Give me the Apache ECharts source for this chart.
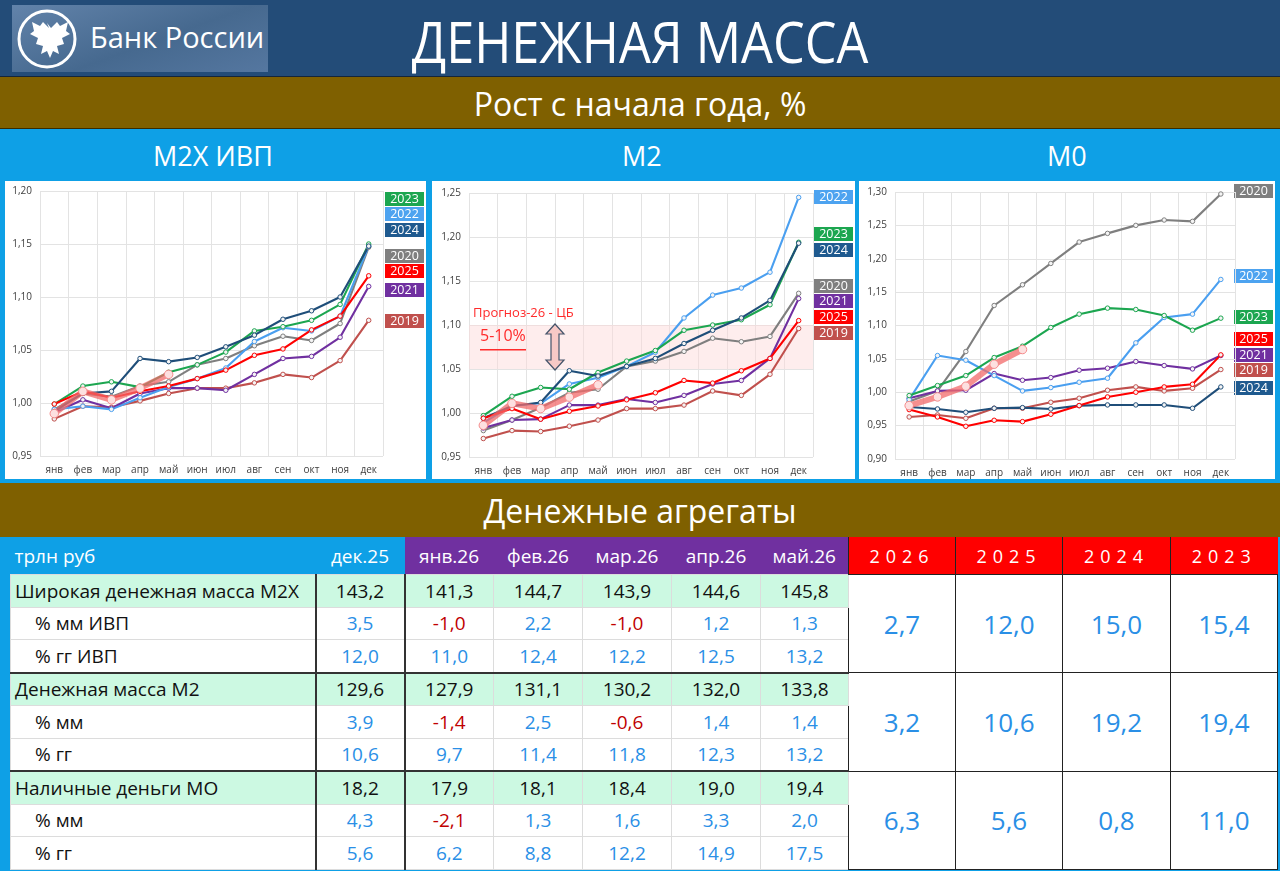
<!DOCTYPE html>
<html lang="ru">
<head>
<meta charset="UTF-8">
<title>Денежная масса</title>
<script src="https://cdn.jsdelivr.net/npm/echarts@6/dist/echarts.min.js"></script>
<style>
  body{margin:0;width:1280px;height:871px;position:relative;overflow:hidden;background:#0ea0e6;font-family:"Open Sans","Noto Sans",sans-serif;}
  .abs{position:absolute;}
  #hdr{left:0;top:0;width:1280px;height:76px;background:#234c78;border-bottom:1px solid #15263a;}
  #logo{left:12px;top:5px;width:256px;height:67px;background:linear-gradient(160deg,#6283aa 0%,#46698f 55%,#5577a0 100%);}
  #logo .txt{position:absolute;left:78px;top:12px;color:#fff;font-size:29px;white-space:nowrap;}
  #title{left:0;top:3px;width:1280px;text-align:center;color:#fff;font-size:56px;white-space:nowrap;transform:scaleX(0.9);transform-origin:640px 0;}
  .bar{left:0;width:1280px;color:#fff;text-align:center;white-space:nowrap;}
  #bar1{top:77px;height:51px;line-height:53px;background:#7f6000;font-size:32px;border-bottom:1px solid #3a2c00;}
  #bar2{top:129px;height:50px;background:#0ea0e6;font-size:27px;}
  #bar2 span{position:absolute;top:8px;}
  #bar3{top:483px;height:54px;line-height:56px;background:#7f6000;font-size:32px;}
  .chart{top:181px;height:298px;background:#fff;}
  table{position:absolute;left:10px;top:537px;border-collapse:collapse;table-layout:fixed;width:1267px;}
  td{padding:0;text-align:center;font-size:19px;height:31.5px;border:1px solid #dcdcdc;white-space:nowrap;background:#fff;}
  tr.h td{height:37px;color:#fff;border:none;}
  td.lbl{text-align:left;padding-left:4px;color:#111;}
  td.ind{padding-left:24px;}
  tr.main td{background:#ccf9e2;color:#111;}
  .pos{color:#2a8fe6;}
  .neg{color:#c00000;}
  tr td.big, tr.main td.big{background:#fff;color:#2a8fe6;font-size:26px;border:1px solid #222;}
  td.vl{border-left:2px solid #333;}
  tr.sep td{border-top:2px solid #333;}
</style>
</head>
<body>
<div id="hdr" class="abs">
  <div id="logo" class="abs">
    <svg width="70" height="67" style="position:absolute;left:4px;top:0">
      <circle cx="31" cy="34" r="28" fill="none" stroke="#fff" stroke-width="3"/>
      <path d="M31 18 l4 5 l6-6 l3 4 l8-4 l-2 9 l4 3 l-8 4 l2 6 l-7 2 l2 8 l-6-3 l-3 7 l-3-7 l-6 3 l2-8 l-7-2 l2-6 l-8-4 l4-3 l-2-9 l8 4 l3-4 l6 6z" fill="#fff"/>
    </svg>
    <div class="txt">Банк России</div>
  </div>
  <div id="title" class="abs">ДЕНЕЖНАЯ МАССА</div>
</div>
<div id="bar1" class="abs bar">Рост с начала года, %</div>
<div id="bar2" class="abs bar">
  <span style="left:153px">М2Х ИВП</span>
  <span style="left:622px">М2</span>
  <span style="left:1047px">М0</span>
</div>
<div id="c1" class="abs chart" style="left:5px;width:421px"></div>
<div id="c2" class="abs chart" style="left:432px;width:423px"></div>
<div id="c3" class="abs chart" style="left:859px;width:416px"></div>
<div id="bar3" class="abs bar">Денежные агрегаты</div>
<table id="tbl"></table>

<script type="text/javascript">
// месяцы
var months = ['янв', 'фев', 'мар', 'апр', 'май', 'июн', 'июл', 'авг', 'сен', 'окт', 'ноя', 'дек'];
var years = ['2019', '2020', '2021', '2022', '2023', '2024', '2025'];
var yearColors = ['#c0504d', '#7f7f7f', '#7030a0', '#4a9ff0', '#1ca650', '#1f4e79', '#ff0000'];

// M2X ИВП, рост с начала года
var m2x_2019 = [0.985, 0.997, 0.996, 1.002, 1.009, 1.014, 1.014, 1.019, 1.027, 1.024, 1.040, 1.078];
var m2x_2020 = [0.994, 1.009, 1.006, 1.016, 1.020, 1.036, 1.042, 1.054, 1.063, 1.059, 1.075, 1.147];
var m2x_2021 = [0.991, 1.003, 0.995, 1.009, 1.014, 1.014, 1.012, 1.027, 1.042, 1.044, 1.062, 1.110];
var m2x_2022 = [0.994, 0.997, 0.994, 1.005, 1.015, 1.023, 1.033, 1.058, 1.071, 1.068, 1.082, 1.148];
var m2x_2023 = [0.999, 1.016, 1.020, 1.015, 1.029, 1.036, 1.048, 1.068, 1.072, 1.078, 1.093, 1.150];
var m2x_2024 = [0.992, 1.009, 1.011, 1.042, 1.039, 1.043, 1.053, 1.064, 1.079, 1.087, 1.100, 1.148];
var m2x_2025 = [0.999, 1.011, 1.005, 1.011, 1.016, 1.023, 1.031, 1.045, 1.051, 1.069, 1.082, 1.120];
var m2x_2026 = [0.990, 1.011, 1.003, 1.014, 1.027];

// M2
var m2_2019 = [0.971, 0.980, 0.979, 0.985, 0.992, 1.005, 1.005, 1.009, 1.025, 1.020, 1.044, 1.096];
var m2_2020 = [0.980, 0.992, 1.006, 1.023, 1.027, 1.053, 1.059, 1.070, 1.085, 1.081, 1.087, 1.136];
var m2_2021 = [0.983, 0.992, 0.993, 1.009, 1.009, 1.016, 1.012, 1.020, 1.033, 1.037, 1.062, 1.130];
var m2_2022 = [0.989, 1.008, 1.011, 1.033, 1.040, 1.053, 1.069, 1.108, 1.134, 1.142, 1.160, 1.245];
var m2_2023 = [0.997, 1.019, 1.029, 1.027, 1.046, 1.059, 1.071, 1.094, 1.100, 1.106, 1.123, 1.194];
var m2_2024 = [0.994, 1.008, 1.012, 1.048, 1.042, 1.053, 1.062, 1.079, 1.094, 1.108, 1.128, 1.193];
var m2_2025 = [0.994, 1.005, 0.993, 1.002, 1.008, 1.015, 1.023, 1.037, 1.034, 1.048, 1.062, 1.105];
var m2_2026 = [0.986, 1.011, 1.005, 1.018, 1.032];

// M0
var m0_2019 = [0.963, 0.966, 0.961, 0.976, 0.976, 0.985, 0.991, 1.003, 1.008, 1.002, 1.006, 1.034];
var m0_2020 = [0.986, 1.002, 1.061, 1.130, 1.161, 1.193, 1.225, 1.238, 1.250, 1.258, 1.256, 1.297];
var m0_2021 = [0.991, 1.002, 1.003, 1.028, 1.018, 1.022, 1.033, 1.036, 1.046, 1.040, 1.035, 1.055];
var m0_2022 = [0.989, 1.055, 1.048, 1.025, 1.002, 1.007, 1.015, 1.021, 1.074, 1.112, 1.117, 1.169];
var m0_2023 = [0.995, 1.010, 1.025, 1.052, 1.069, 1.097, 1.117, 1.126, 1.124, 1.115, 1.093, 1.111];
var m0_2024 = [0.978, 0.975, 0.970, 0.976, 0.977, 0.975, 0.980, 0.981, 0.981, 0.981, 0.976, 1.008];
var m0_2025 = [0.974, 0.963, 0.949, 0.958, 0.956, 0.967, 0.980, 0.993, 1.000, 1.008, 1.012, 1.056];
var m0_2026 = [0.980, 0.993, 1.009, 1.042, 1.064];

// таблица
var tblCols = ['дек.25', 'янв.26', 'фев.26', 'мар.26', 'апр.26', 'май.26'];
var tblYears = ['2026', '2025', '2024', '2023'];
var m2xLevel = [143.2, 141.3, 144.7, 143.9, 144.6, 145.8];
var m2xMm = [3.5, -1.0, 2.2, -1.0, 1.2, 1.3];
var m2xGg = [12.0, 11.0, 12.4, 12.2, 12.5, 13.2];
var m2xYear = [2.7, 12.0, 15.0, 15.4];
var m2Level = [129.6, 127.9, 131.1, 130.2, 132.0, 133.8];
var m2Mm = [3.9, -1.4, 2.5, -0.6, 1.4, 1.4];
var m2Gg = [10.6, 9.7, 11.4, 11.8, 12.3, 13.2];
var m2Year = [3.2, 10.6, 19.2, 19.4];
var m0Level = [18.2, 17.9, 18.1, 18.4, 19.0, 19.4];
var m0Mm = [4.3, -2.1, 1.3, 1.6, 3.3, 2.0];
var m0Gg = [5.6, 6.2, 8.8, 12.2, 14.9, 17.5];
var m0Year = [6.3, 5.6, 0.8, 11.0];

function fmt(v, d) { return v.toFixed(d).replace('.', ','); }

function makeChart(id, data, cur, yMin, yMax, grid, tags, extra) {
    var chart = echarts.init(document.getElementById(id));
    var series = [];
    for (var i = 0; i < years.length; i++) {
        series.push({
            name: years[i], type: 'line', data: data[i],
            symbol: 'circle', symbolSize: 4.5,
            itemStyle: {color: '#f4f4f4', borderColor: yearColors[i], borderWidth: 1},
            lineStyle: {color: yearColors[i], width: 2.1},
            emphasis: {disabled: true}, z: 2
        });
    }
    series.push({
        name: '2026', type: 'line', data: cur,
        symbol: 'circle', symbolSize: 8.5,
        itemStyle: {color: '#fde0e0', borderColor: 'rgba(243,130,130,0.9)', borderWidth: 1},
        lineStyle: {color: 'rgba(242,105,105,0.75)', width: 6},
        emphasis: {disabled: true}, z: 5
    });
    if (extra && extra.band) {
        series[0].markArea = {
            silent: true,
            itemStyle: {color: 'rgba(252,215,215,0.45)'},
            data: [[{yAxis: extra.band[0]}, {yAxis: extra.band[1]}]]
        };
    }
    var g = [];
    tags.forEach(function (t) {
        g.push({
            type: 'group', right: 2, top: t[1] - 7, children: [
                {type: 'rect', shape: {x: 0, y: 0, width: 39, height: 14}, style: {fill: t[2]}},
                {type: 'text', x: 19.5, y: 7, style: {text: t[0], fill: '#fff', font: '12.5px "Open Sans"', align: 'center', verticalAlign: 'middle'}}
            ]
        });
    });
    if (extra && extra.graphic) g = g.concat(extra.graphic);
    chart.setOption({
        animation: false,
        grid: grid,
        xAxis: {
            type: 'category', data: months, boundaryGap: true,
            axisLine: {show: false}, axisTick: {show: false},
            axisLabel: {color: '#404040', fontSize: 10, margin: 9, fontFamily: 'Open Sans'},
            splitLine: {show: true, lineStyle: {color: '#e3e3e3', width: 1}}
        },
        yAxis: {
            type: 'value', min: yMin, max: yMax, interval: 0.05,
            axisLabel: {color: '#404040', fontSize: 10, margin: 8, fontFamily: 'Open Sans', formatter: function (v) { return fmt(v, 2); }},
            splitLine: {lineStyle: {color: '#e3e3e3', width: 1}}
        },
        series: series,
        graphic: g
    });
    return chart;
}

makeChart('c1', [m2x_2019, m2x_2020, m2x_2021, m2x_2022, m2x_2023, m2x_2024, m2x_2025], m2x_2026,
    0.95, 1.20, {left: 35, right: 43, top: 10, bottom: 23},
    [['2023', 18, '#1ca650'], ['2022', 33, '#4da3f0'], ['2024', 49, '#1f5a8f'], ['2020', 75, '#7f7f7f'],
     ['2025', 90, '#ff0000'], ['2021', 109, '#7030a0'], ['2019', 140, '#c0504d']]);

makeChart('c2', [m2_2019, m2_2020, m2_2021, m2_2022, m2_2023, m2_2024, m2_2025], m2_2026,
    0.95, 1.25, {left: 37, right: 42, top: 12, bottom: 22},
    [['2022', 16, '#4da3f0'], ['2023', 53, '#1ca650'], ['2024', 69, '#1f5a8f'], ['2020', 105, '#7f7f7f'],
     ['2021', 120, '#7030a0'], ['2025', 136, '#ff0000'], ['2019', 152, '#c0504d']],
    {
        band: [1.05, 1.10],
        graphic: [
            {type: 'text', left: 41, top: 126, z: 100, style: {text: 'Прогноз-26 - ЦБ', fill: '#ff2b2b', font: '13px "Open Sans"'}},
            {type: 'text', left: 48, top: 147, z: 100, style: {text: '5-10%', fill: '#ff2b2b', font: '16px "Open Sans"'}},
            {type: 'rect', left: 48, top: 168, z: 100, shape: {width: 46, height: 1.5}, style: {fill: '#ff2b2b'}},
            {type: 'polygon', z: 100, shape: {points: [[123, 143], [132, 153], [127, 153], [127, 179], [132, 179], [123, 189], [114, 179], [119, 179], [119, 153], [114, 153]]},
             style: {fill: '#f7c9c6', stroke: '#44546a', lineWidth: 1.2}}
        ]
    });

makeChart('c3', [m0_2019, m0_2020, m0_2021, m0_2022, m0_2023, m0_2024, m0_2025], m0_2026,
    0.90, 1.30, {left: 36, right: 40, top: 11, bottom: 20},
    [['2020', 10, '#7f7f7f'], ['2022', 95, '#4da3f0'], ['2023', 136, '#1ca650'], ['2025', 158, '#ff0000'],
     ['2021', 174, '#7030a0'], ['2019', 189, '#c0504d'], ['2024', 207, '#1f5a8f']]);

// таблица агрегатов
(function () {
    var widths = [305, 89, 89, 89, 89, 89, 88, 107, 107, 108, 107];
    var html = '<colgroup>' + widths.map(function (w) { return '<col style="width:' + w + 'px">'; }).join('') + '</colgroup>';
    html += '<tr class="h"><td class="lbl" style="background:#0ea0e6;color:#fff;font-size:19px">трлн руб</td>';
    tblCols.forEach(function (c, i) {
        var bg = i === 0 ? '#0ea0e6' : '#7030a0';
        var cls = i <= 1 ? ' class="vl"' : '';
        html += '<td' + cls + ' style="background:' + bg + '">' + c + '</td>';
    });
    tblYears.forEach(function (y) {
        html += '<td style="background:#ff0000;border-left:1px solid #222;letter-spacing:6px;font-size:18px">' + y + '</td>';
    });
    html += '</tr>';
    var groups = [
        ['Широкая денежная масса М2Х', '% мм ИВП', '% гг ИВП', m2xLevel, m2xMm, m2xGg, m2xYear],
        ['Денежная масса М2', '% мм', '% гг', m2Level, m2Mm, m2Gg, m2Year],
        ['Наличные деньги МО', '% мм', '% гг', m0Level, m0Mm, m0Gg, m0Year]
    ];
    groups.forEach(function (gr, gi) {
        var sep = gi > 0 ? ' sep' : '';
        html += '<tr class="main' + sep + '"><td class="lbl">' + gr[0] + '</td>';
        gr[3].forEach(function (v, i) { html += '<td' + (i <= 1 ? ' class="vl"' : '') + '>' + fmt(v, 1) + '</td>'; });
        gr[6].forEach(function (v) { html += '<td class="big" rowspan="3">' + fmt(v, 1) + '</td>'; });
        html += '</tr>';
        [[gr[1], gr[4]], [gr[2], gr[5]]].forEach(function (r) {
            html += '<tr><td class="lbl ind">' + r[0] + '</td>';
            r[1].forEach(function (v, i) {
                var c = (v < 0 ? 'neg' : 'pos') + (i <= 1 ? ' vl' : '');
                html += '<td class="' + c + '">' + fmt(v, 1) + '</td>';
            });
            html += '</tr>';
        });
    });
    document.getElementById('tbl').innerHTML = html;
})();
</script>
</body>
</html>
